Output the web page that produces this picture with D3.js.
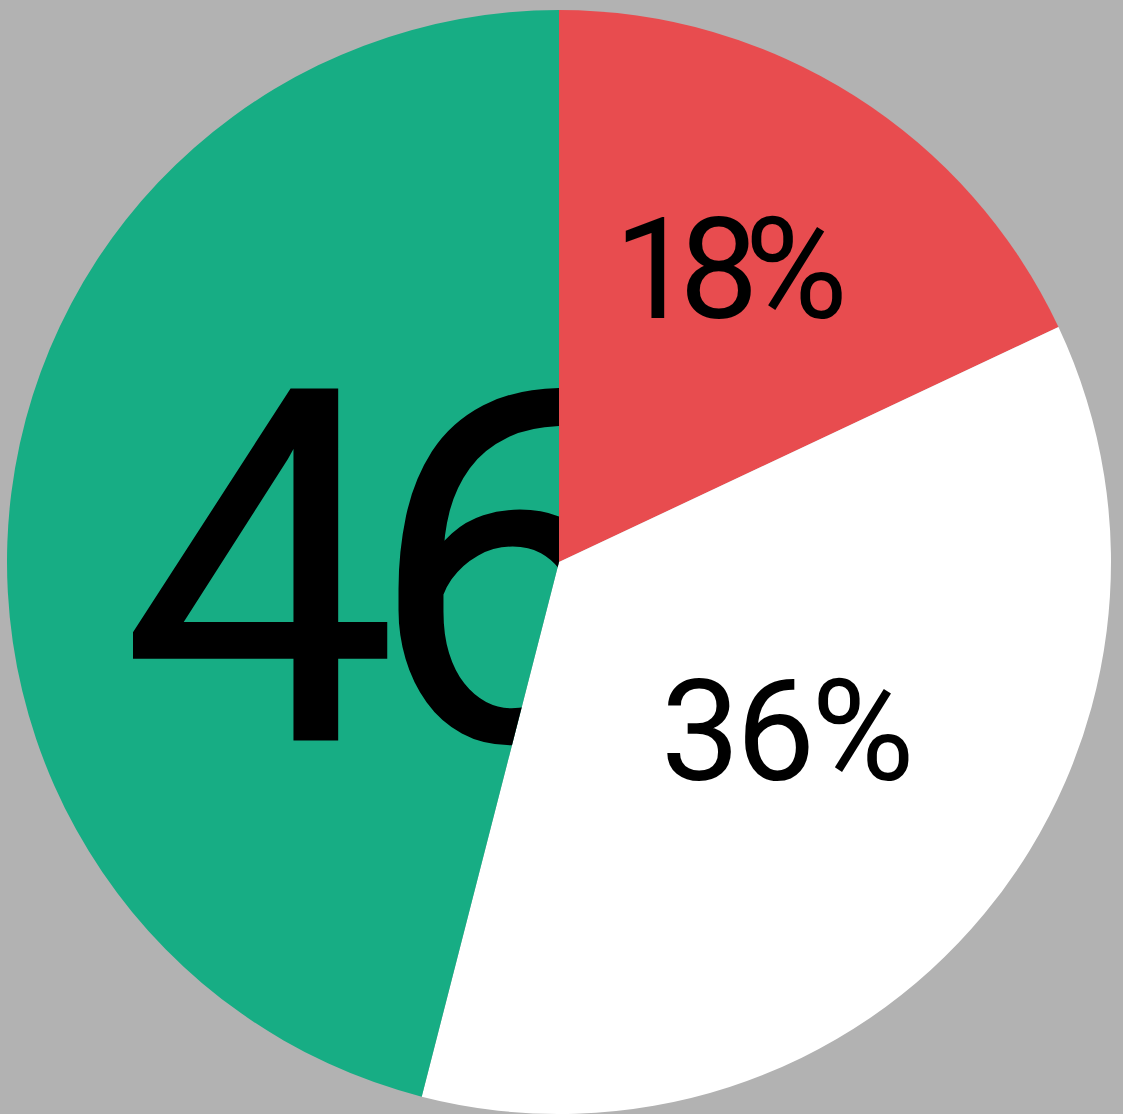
<!DOCTYPE html>
<html>
<head>
<meta charset="utf-8">
<script src="https://cdn.jsdelivr.net/npm/d3@7"></script>
<style>
  html, body { margin: 0; padding: 0; background: #b2b2b2; }
  svg { display: block; }
</style>
</head>
<body>
<div id="chart"></div>
<script>
// slice data, clockwise from 12 o'clock
const categories = ["Rouge", "Blanc", "Vert"];
const shares = [18, 36, 46];
const labels = ["18%", "36%", "46%"];

const width = 1123;
const height = 1114;
const cx = 559;
const cy = 562;
const radius = 552;

const color = d3.scaleOrdinal()
  .domain(categories)
  .range(["#e84c4f", "#ffffff", "#17ad84"]);

// label styling per slice (font size, nudge from the slice centroid, anchor)
const labelStyle = {
  Rouge: { size: 141, dx: 17, dy: -11, anchor: "middle", spacing: -14 },
  Blanc: { size: 141, dx: 14, dy: 42, anchor: "middle", spacing: -4 },
  Vert: { size: 495, dx: -165, dy: 213, anchor: "start", spacing: -32 },
};

const pie = d3.pie().sort(null).value((d, i) => shares[i]);
const arc = d3.arc().innerRadius(0).outerRadius(radius);

const arcs = pie(categories);

const svg = d3.select("#chart")
  .append("svg")
  .attr("width", width)
  .attr("height", height)
  .attr("viewBox", [0, 0, width, height]);

svg.append("rect")
  .attr("width", width)
  .attr("height", height)
  .attr("fill", "#b2b2b2");

// each label is clipped to its own slice
const defs = svg.append("defs");
defs.selectAll("clipPath")
  .data(arcs)
  .join("clipPath")
  .attr("id", (d, i) => `clip-${i}`)
  .append("path")
  .attr("transform", `translate(${cx},${cy})`)
  .attr("d", arc);

const g = svg.append("g");

g.selectAll(".slice")
  .data(arcs)
  .join("path")
  .attr("class", "slice")
  .attr("transform", `translate(${cx},${cy})`)
  .attr("fill", (d) => color(d.data))
  .attr("d", arc);

g.selectAll(".label")
  .data(arcs)
  .join("text")
  .attr("class", "label")
  .attr("clip-path", (d, i) => `url(#clip-${i})`)
  .attr("font-family", "Roboto, 'Liberation Sans', Arial, sans-serif")
  .attr("fill", "#000")
  .attr("font-size", (d) => labelStyle[d.data].size)
  .attr("letter-spacing", (d) => labelStyle[d.data].spacing)
  .attr("text-anchor", (d) => labelStyle[d.data].anchor)
  .attr("x", (d) => cx + arc.centroid(d)[0] + labelStyle[d.data].dx)
  .attr("y", (d) => cy + arc.centroid(d)[1] + labelStyle[d.data].dy)
  .text((d, i) => labels[i]);
</script>
</body>
</html>
